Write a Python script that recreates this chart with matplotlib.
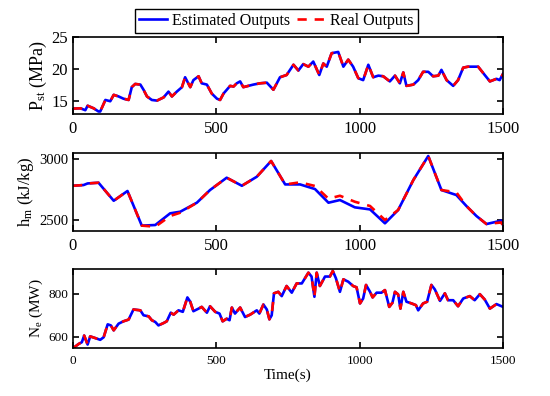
import matplotlib.pyplot as plt

plt.rcParams['font.family'] = ['Liberation Serif', 'DejaVu Serif']
plt.rcParams['mathtext.fontset'] = 'custom'
plt.rcParams['mathtext.rm'] = 'Liberation Serif'
plt.rcParams['mathtext.it'] = 'Liberation Serif'

# P_st (MPa)
t_p = [0, 26, 43, 51, 72, 89, 95, 113, 130, 142, 159, 176, 194, 205, 217, 235, 246, 258,
       275, 293, 316, 333, 345, 362, 380, 391, 409, 420, 438, 449, 467, 484, 502, 513,
       525, 548, 560, 571, 583, 594, 629, 652, 676, 699, 722, 745, 769, 786, 803, 821,
       838, 859, 873, 885, 902, 925, 943, 960, 977, 995, 1012, 1030, 1047, 1065, 1082,
       1105, 1123, 1140, 1152, 1163, 1187, 1204, 1221, 1239, 1256, 1274, 1285, 1303,
       1326, 1343, 1361, 1378, 1413, 1436, 1454, 1477, 1488, 1500]
est_p = [13.85, 13.9, 13.6, 14.3, 13.9, 13.4, 13.4, 15.2, 15.0, 16.0, 15.75, 15.4, 15.2,
         17.2, 17.7, 17.6, 16.8, 15.75, 15.2, 15.1, 15.6, 16.5, 15.75, 16.5, 17.2, 18.75,
         17.2, 18.3, 18.9, 17.8, 17.6, 16.2, 15.4, 15.2, 16.2, 17.4, 17.3, 17.8, 18.1,
         17.2, 17.6, 17.8, 17.9, 16.8, 18.75, 19.1, 20.7, 19.8, 20.8, 20.4, 21.2, 19.1,
         20.9, 20.4, 22.5, 22.7, 20.4, 21.5, 20.4, 18.6, 18.3, 20.7, 18.75, 19.0, 18.9,
         18.1, 19.0, 17.8, 19.5, 17.4, 17.6, 18.3, 19.6, 19.6, 18.9, 19.0, 19.9, 18.3,
         17.4, 18.3, 20.25, 20.4, 20.4, 19.1, 18.1, 18.5, 18.3, 19.3]
real_p = est_p

# h_m (kJ/kg)
t_h = [0, 37, 51, 89, 142, 190, 240, 287, 339, 374, 432, 478, 536, 589, 641, 691, 740,
       792, 844, 891, 931, 983, 1036, 1088, 1134, 1187, 1239, 1285, 1337, 1372, 1407,
       1442, 1494, 1500]
est_h = [2781, 2787, 2800, 2806, 2658, 2738, 2454, 2459, 2555, 2568, 2642, 2746, 2847,
         2781, 2855, 2984, 2792, 2792, 2754, 2642, 2664, 2604, 2587, 2473, 2582, 2828,
         3025, 2746, 2705, 2615, 2533, 2467, 2495, 2459]
real_h = [2781, 2787, 2800, 2806, 2658, 2738, 2454, 2445, 2533, 2560, 2642, 2746, 2847,
          2781, 2855, 2984, 2792, 2809, 2779, 2675, 2699, 2650, 2615, 2500, 2582, 2828,
          3025, 2746, 2727, 2615, 2533, 2467, 2480, 2445]

# N_e (MW)
t_n = [0, 20, 31, 39, 51, 60, 78, 95, 107, 121, 132, 142, 159, 176, 194, 211, 235, 246,
       264, 275, 287, 298, 316, 327, 341, 351, 368, 383, 399, 409, 420, 438, 449, 467,
       478, 496, 511, 522, 536, 546, 554, 565, 583, 600, 618, 641, 650, 664, 676, 685,
       693, 701, 716, 728, 745, 763, 780, 798, 821, 832, 842, 850, 861, 879, 896, 906,
       917, 931, 943, 960, 977, 989, 1001, 1012, 1022, 1036, 1045, 1059, 1076, 1088,
       1103, 1114, 1123, 1134, 1142, 1152, 1163, 1181, 1196, 1204, 1221, 1235, 1250,
       1262, 1280, 1297, 1308, 1326, 1343, 1361, 1384, 1401, 1419, 1436, 1454, 1477, 1500]
est_n = [547, 567, 575, 606, 564, 602, 594, 586, 598, 658, 653, 630, 661, 672, 680, 727,
         723, 700, 695, 677, 669, 653, 664, 672, 712, 703, 723, 716, 783, 763, 719, 731,
         739, 712, 742, 716, 708, 672, 684, 677, 736, 708, 736, 692, 703, 723, 708, 750,
         727, 681, 700, 802, 809, 789, 836, 805, 848, 848, 898, 880, 786, 898, 836, 880,
         880, 906, 872, 809, 867, 856, 836, 830, 755, 778, 841, 809, 783, 805, 805, 817,
         739, 758, 809, 797, 731, 809, 763, 755, 747, 723, 755, 763, 841, 820, 767, 802,
         770, 770, 742, 778, 789, 770, 798, 773, 731, 752, 739]
real_n = est_n

fig, axes = plt.subplots(3, 1, figsize=(5.5, 3.96), dpi=100)
pos = [(0.1327, 0.712, 0.782, 0.194),
       (0.1327, 0.4167, 0.782, 0.197),
       (0.1327, 0.1212, 0.782, 0.1995)]
data = [(t_p, est_p, real_p), (t_h, est_h, real_h), (t_n, est_n, real_n)]
ylims = [(13, 25), (2410, 3050), (548, 915)]
yticks = [[15, 20, 25], [2500, 3000], [600, 800]]
ylabels = [r'P$_{\rm st}$ (MPa)', r'h$_{\rm m}$ (kJ/kg)', r'N$_{\rm e}$ (MW)']
xsize = [12, 12, 9.5]
ysize = [12, 10.5, 9.5]
lsize = [13, 12, 11]

for i, ax in enumerate(axes):
    ax.set_position(pos[i])
    t, e, r = data[i]
    l1, = ax.plot(t, e, color='#0000FF', lw=1.9, label='Estimated Outputs')
    l2, = ax.plot(t, r, color='#FF0000', lw=1.9, ls=(0, (3.5, 3)), label='Real Outputs')
    ax.set_xlim(0, 1500)
    ax.set_ylim(*ylims[i])
    ax.set_xticks([0, 500, 1000, 1500])
    ax.set_yticks(yticks[i])
    ax.tick_params(direction='in', top=True, right=True, length=4, width=1.2)
    ax.tick_params(axis='x', labelsize=xsize[i], pad=5)
    ax.tick_params(axis='y', labelsize=ysize[i])
    ax.set_ylabel(ylabels[i], fontsize=lsize[i], labelpad=2)
    for s in ax.spines.values():
        s.set_linewidth(1.2)

axes[2].set_xlabel('Time(s)', fontsize=11, labelpad=1)

fig.legend(handles=[l1, l2], loc='center', bbox_to_anchor=(0.502, 0.947), ncol=2,
           fontsize=11.5, frameon=True, fancybox=False, edgecolor='black',
           framealpha=1, borderpad=0.25, handlelength=1.8, columnspacing=0.4,
           handletextpad=0.3, borderaxespad=0.2)

fig.savefig('out.png', dpi=100)
